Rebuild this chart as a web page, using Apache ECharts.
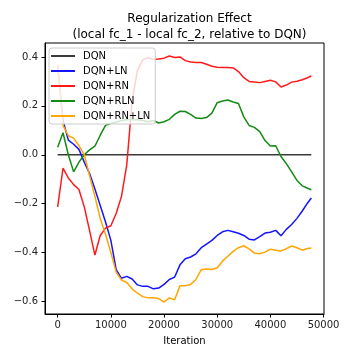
<!DOCTYPE html>
<html>
<head>
<meta charset="utf-8">
<script src="https://cdn.jsdelivr.net/npm/echarts@6/dist/echarts.min.js"></script>
<style>html,body{margin:0;padding:0;background:#fff}#c{width:360px;height:360px}</style>
</head>
<body>
<div id="c"></div>
<script>
const iterations = [0,1000,2000,3000,4000,5000,6000,7000,8000,9000,10000,11000,12000,13000,14000,15000,16000,17000,18000,19000,20000,21000,22000,23000,24000,25000,26000,27000,28000,29000,30000,31000,32000,33000,34000,35000,36000,37000,38000,39000,40000,41000,42000,43000,44000,45000,46000,47000,47700];
const seriesNames = ['DQN','DQN+LN','DQN+RN','DQN+RLN','DQN+RN+LN'];
const dqn = iterations.map(() => 0);
const dqnLN = [0.367,0.14,0.06,0.043,0.022,-0.03,-0.077,-0.14,-0.207,-0.275,-0.35,-0.47,-0.505,-0.497,-0.508,-0.532,-0.538,-0.538,-0.548,-0.545,-0.53,-0.51,-0.5,-0.45,-0.425,-0.418,-0.405,-0.38,-0.365,-0.35,-0.33,-0.315,-0.309,-0.315,-0.321,-0.33,-0.345,-0.348,-0.335,-0.32,-0.317,-0.309,-0.331,-0.305,-0.285,-0.26,-0.23,-0.197,-0.177];
const dqnRN = [-0.213,-0.055,-0.095,-0.122,-0.142,-0.213,-0.31,-0.41,-0.33,-0.3,-0.29,-0.24,-0.17,-0.04,0.22,0.345,0.388,0.397,0.39,0.392,0.395,0.404,0.398,0.4,0.385,0.379,0.377,0.377,0.37,0.362,0.358,0.357,0.357,0.355,0.34,0.315,0.3,0.298,0.295,0.3,0.305,0.298,0.277,0.285,0.297,0.301,0.307,0.315,0.322];
const dqnRLN = [0.031,0.09,0.0,-0.07,-0.03,0.0,0.02,0.035,0.08,0.12,0.129,0.133,0.14,0.143,0.143,0.143,0.14,0.135,0.14,0.13,0.135,0.145,0.165,0.178,0.177,0.165,0.15,0.148,0.152,0.17,0.213,0.22,0.224,0.216,0.21,0.155,0.12,0.112,0.095,0.058,0.036,0.037,-0.007,-0.036,-0.07,-0.105,-0.127,-0.137,-0.143];
const dqnRNLN = [0.367,0.12,0.078,0.068,0.037,0.0,-0.085,-0.17,-0.26,-0.325,-0.4,-0.48,-0.512,-0.522,-0.548,-0.566,-0.58,-0.585,-0.585,-0.588,-0.602,-0.585,-0.593,-0.535,-0.535,-0.53,-0.51,-0.47,-0.467,-0.469,-0.462,-0.435,-0.415,-0.395,-0.38,-0.372,-0.385,-0.402,-0.405,-0.398,-0.386,-0.39,-0.393,-0.384,-0.373,-0.38,-0.39,-0.383,-0.381];
const xTicks = [0,10000,20000,30000,40000,50000];
const yTicks = [-0.6,-0.4,-0.2,0.0,0.2,0.4];

const values = [dqn, dqnLN, dqnRN, dqnRLN, dqnRNLN];
const colors = ['#3a3a3a','#1414ff','#ff1a1a','#138a13','#ffa500'];
const font = 'DejaVu Sans';

const chart = echarts.init(document.getElementById('c'), null, {renderer:'canvas'});
chart.setOption({
  animation: false,
  backgroundColor: '#fff',
  textStyle: {fontFamily: font},
  title: {
    text: 'Regularization Effect\n(local fc_1 - local fc_2, relative to DQN)',
    left: 184.5, top: 6, textAlign: 'center',
    textStyle: {fontFamily: font, fontSize: 12, fontWeight: 'normal', color: '#000', lineHeight: 16}
  },
  legend: {
    orient: 'vertical', left: 49, top: 48,
    data: seriesNames,
    icon: 'rect', itemWidth: 24, itemHeight: 2, itemGap: 5,
    padding: [3, 5, 3, 2],
    backgroundColor: 'rgba(255,255,255,0.8)', borderColor: '#cccccc', borderWidth: 1, borderRadius: 3,
    textStyle: {fontFamily: font, fontSize: 10, color: '#000', padding: [0,0,0,3]}
  },
  grid: {left: 45, top: 43, right: 36, bottom: 46, outerBoundsMode: 'none', containLabel: false,
    show: true, borderColor: '#000', borderWidth: 1, backgroundColor: 'transparent'},
  xAxis: {
    type: 'value', min: -2385, max: 50085,
    name: 'Iteration', nameLocation: 'middle', nameGap: 22,
    nameTextStyle: {fontFamily: font, fontSize: 10, color: '#000'},
    axisLine: {show: true, onZero: false, lineStyle: {color: '#000'}},
    axisTick: {show: true, length: 3.5, lineStyle: {color: '#000'}, customValues: xTicks},
    axisLabel: {fontFamily: font, fontSize: 10, color: '#222', margin: 6, customValues: xTicks, formatter: v => String(v)},
    splitLine: {show: false}
  },
  yAxis: {
    type: 'value', min: -0.651, max: 0.457,
    name: 'MDL', nameLocation: 'middle', nameGap: 39,
    nameTextStyle: {fontFamily: font, fontSize: 10, color: '#000'},
    axisLine: {show: true, onZero: false, lineStyle: {color: '#000'}},
    axisTick: {show: true, length: 3.5, lineStyle: {color: '#000'}, customValues: yTicks},
    axisLabel: {fontFamily: font, fontSize: 10, color: '#222', margin: 7, customValues: yTicks,
      formatter: v => v.toFixed(1).replace('-', '\u2212')},
    splitLine: {show: false}
  },
  series: seriesNames.map((n, i) => ({
    name: n, type: 'line', showSymbol: false, symbol: 'none', smooth: false,
    color: colors[i],
    lineStyle: {width: 1.5, color: colors[i]},
    data: iterations.map((x, k) => [x, values[i][k]])
  }))
});
</script>
</body>
</html>
